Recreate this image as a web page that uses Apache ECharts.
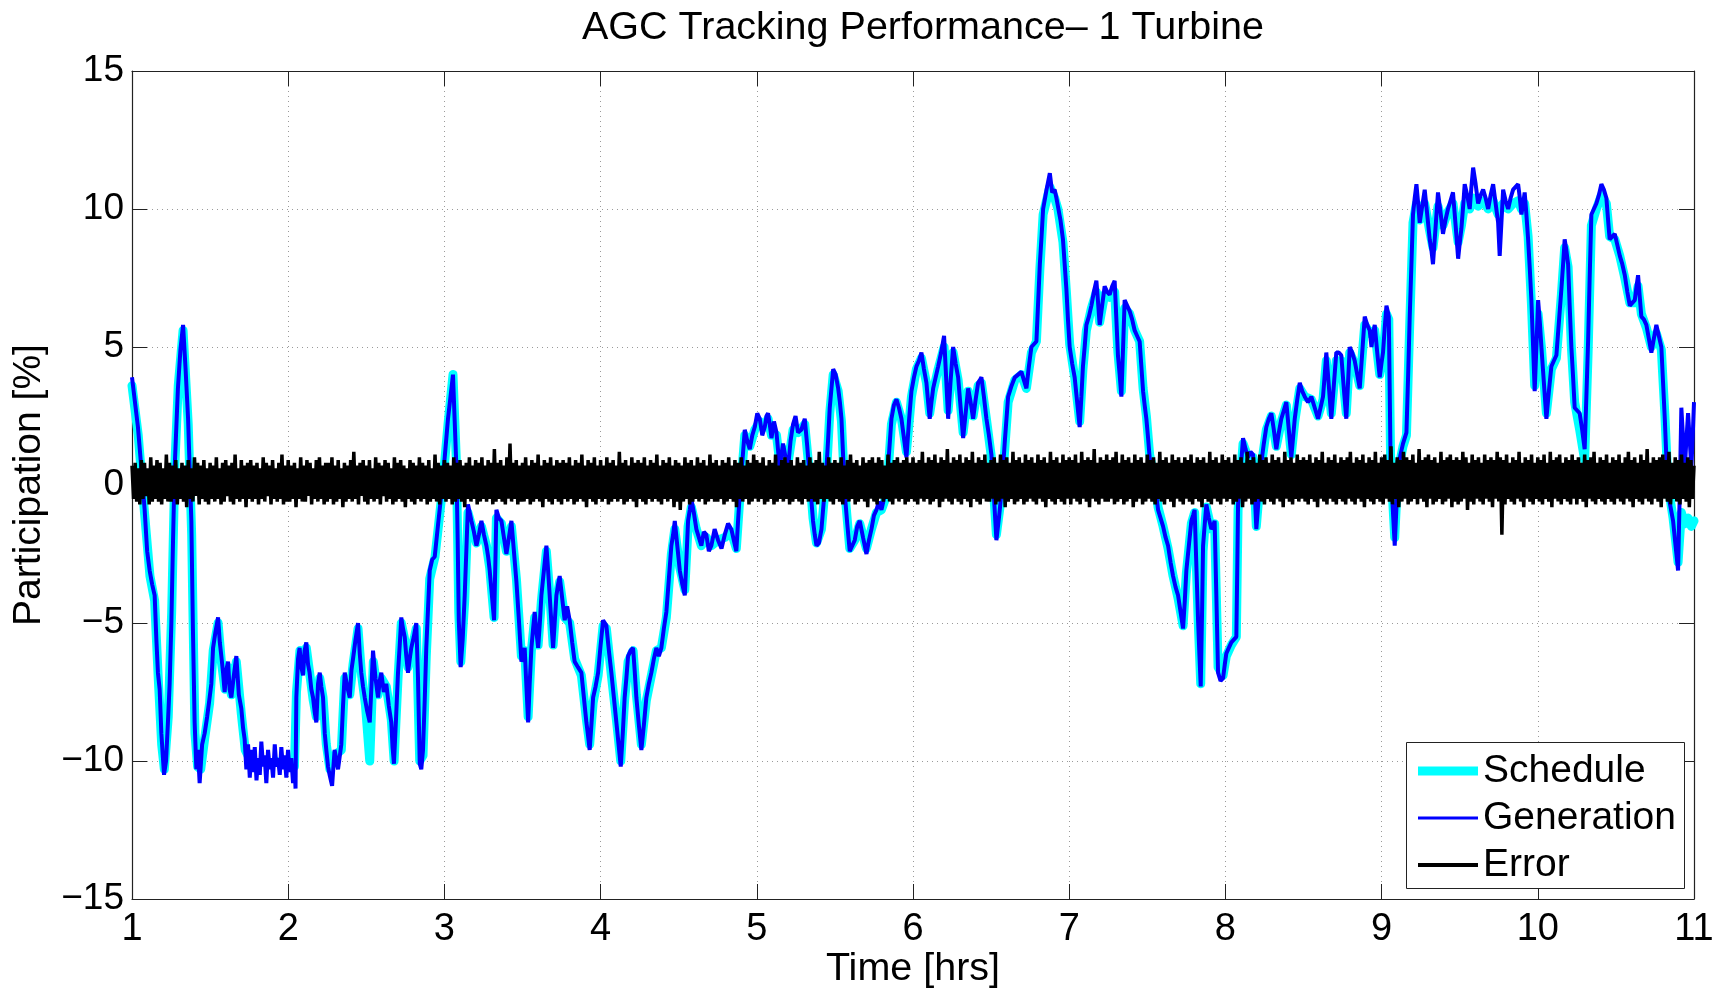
<!DOCTYPE html>
<html>
<head>
<meta charset="utf-8">
<title>AGC Tracking Performance– 1 Turbine</title>
<script src="https://cdn.jsdelivr.net/npm/echarts/dist/echarts.min.js"></script>
<style>
  html, body { margin: 0; padding: 0; background: #fff; }
  #chart { width: 1729px; height: 989px; }
</style>
</head>
<body>
<div id="chart"></div>
<script>
// Axis ticks
const hourTicks = [1, 2, 3, 4, 5, 6, 7, 8, 9, 10, 11];
const pctTicks = [-15, -10, -5, 0, 5, 10, 15];

// AGC schedule [time (hrs), participation (%)]
const schedule = [
[1.000,3.6],[1.040,1.8],[1.080,-1.0],[1.115,-3.3],[1.145,-4.2],[1.168,-7.0],[1.190,-9.4],[1.207,-10.3],[1.232,-8.4],[1.254,-4.6],
[1.275,0.8],[1.296,3.6],[1.327,5.6],[1.360,2.2],[1.382,-1.8],[1.403,-9.0],[1.420,-10.2],[1.440,-10.3],[1.465,-9.2],[1.497,-7.9],
[1.520,-6.0],[1.551,-5.0],[1.572,-6.4],[1.595,-7.4],[1.615,-6.6],[1.636,-7.6],[1.668,-6.4],[1.700,-8.3],[1.725,-9.6],[1.760,-10.0],
[1.800,-10.1],[1.840,-10.0],[1.880,-10.1],[1.920,-10.0],[1.960,-10.1],[2.000,-10.0],[2.040,-10.2],[2.053,-7.5],[2.075,-6.0],[2.095,-6.7],
[2.116,-5.9],[2.137,-6.8],[2.160,-7.8],[2.180,-8.4],[2.202,-7.0],[2.223,-7.7],[2.244,-9.4],[2.267,-10.3],[2.297,-9.8],[2.340,-9.6],
[2.362,-7.0],[2.394,-7.6],[2.415,-6.5],[2.447,-5.2],[2.470,-6.9],[2.495,-8.0],[2.522,-10.0],[2.545,-6.4],[2.575,-7.6],[2.596,-7.0],
[2.628,-7.3],[2.660,-8.5],[2.678,-10.0],[2.703,-7.0],[2.724,-5.0],[2.746,-5.6],[2.767,-6.6],[2.790,-6.0],[2.820,-5.2],[2.842,-10.0],
[2.863,-9.8],[2.884,-6.2],[2.906,-3.4],[2.940,-2.6],[2.981,-0.5],[3.023,2.2],[3.055,4.0],[3.077,0.8],[3.092,-4.6],[3.105,-6.4],
[3.130,-4.2],[3.151,-1.0],[3.205,-2.1],[3.237,-1.5],[3.269,-2.2],[3.290,-3.0],[3.318,-4.8],[3.333,-1.2],[3.365,-1.4],[3.397,-2.4],
[3.429,-1.5],[3.461,-3.4],[3.493,-6.2],[3.514,-6.0],[3.536,-8.4],[3.557,-6.0],[3.578,-4.8],[3.600,-5.8],[3.621,-4.2],[3.653,-2.4],
[3.674,-3.9],[3.696,-5.8],[3.717,-4.2],[3.738,-3.5],[3.770,-4.8],[3.802,-5.0],[3.834,-6.3],[3.877,-6.9],[3.909,-8.5],[3.930,-9.4],
[3.952,-7.9],[3.984,-6.9],[4.016,-5.1],[4.037,-5.2],[4.069,-6.9],[4.101,-8.5],[4.129,-10.0],[4.154,-7.8],[4.176,-6.4],[4.208,-6.0],
[4.229,-7.6],[4.261,-9.4],[4.293,-7.8],[4.325,-6.9],[4.357,-6.0],[4.389,-5.9],[4.421,-4.8],[4.453,-2.5],[4.475,-1.6],[4.507,-3.0],
[4.539,-3.8],[4.560,-1.5],[4.581,-0.8],[4.613,-1.6],[4.645,-2.2],[4.677,-1.9],[4.709,-2.2],[4.752,-2.0],[4.795,-1.9],[4.837,-1.7],
[4.869,-2.3],[4.891,-0.5],[4.923,1.8],[4.955,1.4],[4.987,2.0],[5.019,2.3],[5.051,2.1],[5.072,2.4],[5.094,1.8],[5.126,1.8],
[5.147,0.8],[5.168,1.3],[5.200,0.8],[5.232,2.0],[5.264,1.9],[5.307,2.2],[5.339,0.3],[5.360,-1.2],[5.382,-2.1],[5.414,-1.6],
[5.446,0.4],[5.467,2.6],[5.489,4.0],[5.521,3.4],[5.542,2.3],[5.563,-0.2],[5.595,-2.3],[5.627,-2.0],[5.659,-1.4],[5.702,-2.3],
[5.734,-1.6],[5.766,-1.0],[5.798,-0.9],[5.830,-0.4],[5.862,2.2],[5.894,3.0],[5.926,2.4],[5.958,1.2],[5.990,3.2],[6.022,4.2],
[6.054,4.6],[6.086,3.7],[6.107,2.6],[6.129,3.4],[6.161,4.2],[6.199,5.0],[6.225,2.7],[6.257,4.8],[6.289,3.8],[6.321,1.9],
[6.353,3.4],[6.385,2.5],[6.417,3.6],[6.438,3.7],[6.470,2.4],[6.502,1.0],[6.534,-1.8],[6.566,-0.4],[6.609,3.0],[6.652,3.8],
[6.694,4.0],[6.726,3.5],[6.758,4.8],[6.790,5.2],[6.812,7.8],[6.833,9.8],[6.876,10.8],[6.907,10.4],[6.928,10.0],[6.960,8.8],
[6.982,7.0],[7.003,5.1],[7.035,3.9],[7.067,2.3],[7.088,4.2],[7.110,5.6],[7.142,6.4],[7.174,7.0],[7.195,5.9],[7.227,6.9],
[7.259,6.8],[7.291,7.0],[7.312,4.8],[7.334,3.4],[7.355,6.4],[7.387,6.2],[7.419,5.6],[7.451,5.2],[7.473,3.5],[7.494,2.5],
[7.515,1.1],[7.547,0.2],[7.569,-0.8],[7.601,-1.5],[7.633,-2.3],[7.665,-3.3],[7.697,-4.1],[7.729,-5.1],[7.750,-3.2],[7.782,-1.4],
[7.803,-1.0],[7.825,-4.8],[7.842,-7.2],[7.857,-2.4],[7.878,-0.8],[7.910,-1.6],[7.931,-1.4],[7.953,-6.6],[7.985,-6.9],[8.006,-6.2],
[8.038,-5.8],[8.070,-5.5],[8.081,-0.9],[8.113,1.5],[8.145,1.0],[8.177,1.0],[8.198,-1.5],[8.230,0.7],[8.262,2.0],[8.294,2.5],
[8.326,1.4],[8.358,2.3],[8.390,2.9],[8.422,1.1],[8.444,2.3],[8.476,3.5],[8.508,3.2],[8.550,3.1],[8.593,2.5],[8.625,3.1],
[8.646,4.5],[8.678,2.6],[8.710,4.5],[8.742,4.5],[8.774,2.6],[8.796,4.8],[8.828,4.4],[8.860,3.6],[8.892,5.8],[8.924,5.5],
[8.956,5.6],[8.988,4.0],[9.009,4.6],[9.031,6.2],[9.046,6.0],[9.058,0.8],[9.084,-1.9],[9.105,0.5],[9.137,1.4],[9.159,1.8],
[9.180,5.8],[9.201,9.5],[9.223,10.2],[9.244,9.6],[9.276,10.2],[9.308,9.2],[9.329,8.6],[9.361,10.1],[9.393,9.4],[9.425,9.9],
[9.457,10.2],[9.490,8.8],[9.511,9.4],[9.532,10.2],[9.564,10.0],[9.586,10.4],[9.618,10.1],[9.650,10.3],[9.682,10.0],[9.714,10.3],
[9.746,9.8],[9.778,10.2],[9.810,10.0],[9.842,10.2],[9.874,10.3],[9.895,10.0],[9.916,10.2],[9.938,9.0],[9.959,6.6],[9.980,3.6],
[10.002,6.2],[10.023,5.0],[10.055,2.6],[10.087,4.2],[10.119,4.6],[10.151,6.9],[10.172,8.6],[10.194,7.9],[10.215,5.0],[10.236,3.0],
[10.268,2.0],[10.300,0.9],[10.322,4.8],[10.343,9.4],[10.375,10.0],[10.407,10.5],[10.439,10.2],[10.460,9.0],[10.493,8.9],[10.525,8.3],
[10.557,7.5],[10.589,6.6],[10.621,6.6],[10.642,7.2],[10.663,6.2],[10.695,5.7],[10.727,5.0],[10.759,5.5],[10.791,4.9],[10.813,2.6],
[10.834,0.0],[10.866,-1.2],[10.898,-2.8],[10.919,-1.0],[10.941,-1.4],[10.962,-1.2],[10.983,-1.5],[11.000,-1.3]
];

// Turbine generation [time (hrs), participation (%)]
const generation = [
[1.000,3.9],[1.019,3.0],[1.038,2.1],[1.060,0.6],[1.081,-0.9],[1.097,-2.4],[1.113,-3.1],[1.129,-3.6],[1.145,-4.0],[1.156,-5.6],
[1.166,-6.8],[1.177,-7.4],[1.188,-9.0],[1.205,-10.5],[1.218,-10.0],[1.230,-8.6],[1.241,-7.2],[1.252,-5.0],[1.262,-2.2],[1.273,0.6],
[1.294,3.5],[1.310,4.9],[1.327,5.8],[1.343,4.2],[1.359,2.4],[1.380,-1.3],[1.390,-5.2],[1.401,-8.6],[1.412,-10.3],[1.422,-9.6],
[1.433,-10.8],[1.449,-9.4],[1.465,-9.0],[1.481,-8.4],[1.497,-7.7],[1.508,-7.2],[1.519,-5.9],[1.535,-5.3],[1.551,-4.8],[1.562,-5.7],
[1.572,-6.2],[1.583,-6.8],[1.593,-7.5],[1.604,-6.7],[1.615,-6.4],[1.625,-7.4],[1.636,-7.7],[1.652,-6.9],[1.668,-6.2],[1.684,-7.6],
[1.700,-8.1],[1.711,-8.8],[1.721,-9.2],[1.732,-10.3],[1.743,-9.4],[1.754,-10.6],[1.764,-9.6],[1.775,-10.4],[1.786,-9.5],[1.797,-10.7],
[1.807,-9.9],[1.818,-10.5],[1.828,-9.3],[1.839,-10.2],[1.849,-9.8],[1.860,-10.8],[1.871,-9.6],[1.882,-10.3],[1.892,-9.9],[1.903,-10.6],
[1.914,-9.4],[1.924,-10.2],[1.935,-9.9],[1.946,-10.5],[1.956,-9.5],[1.967,-10.3],[1.977,-9.8],[1.988,-10.6],[1.999,-9.6],[2.009,-10.4],
[2.020,-9.9],[2.031,-10.8],[2.041,-10.1],[2.047,-11.0],[2.052,-7.7],[2.063,-6.3],[2.073,-5.9],[2.084,-6.6],[2.095,-6.9],[2.105,-6.0],
[2.116,-5.7],[2.127,-6.5],[2.137,-6.8],[2.148,-7.4],[2.159,-7.7],[2.169,-8.2],[2.180,-8.6],[2.191,-7.2],[2.202,-6.8],[2.212,-7.3],
[2.223,-7.7],[2.234,-9.0],[2.244,-9.6],[2.255,-10.2],[2.265,-10.5],[2.281,-10.9],[2.297,-9.6],[2.319,-10.3],[2.340,-9.4],[2.351,-8.0],
[2.362,-6.8],[2.378,-7.3],[2.394,-7.7],[2.405,-6.7],[2.415,-6.3],[2.431,-5.6],[2.447,-5.0],[2.458,-6.1],[2.468,-6.8],[2.479,-7.3],
[2.490,-7.7],[2.506,-8.2],[2.522,-8.6],[2.533,-7.3],[2.543,-6.0],[2.559,-7.0],[2.575,-7.7],[2.586,-7.1],[2.596,-6.8],[2.612,-7.5],
[2.628,-7.2],[2.644,-8.0],[2.660,-8.6],[2.668,-9.5],[2.677,-10.1],[2.690,-8.5],[2.703,-6.8],[2.714,-5.8],[2.724,-4.8],[2.735,-5.2],
[2.746,-5.5],[2.756,-6.2],[2.767,-6.8],[2.778,-6.3],[2.788,-5.9],[2.804,-5.5],[2.820,-5.0],[2.831,-7.0],[2.842,-10.1],[2.852,-10.3],
[2.863,-9.6],[2.874,-7.8],[2.884,-5.9],[2.895,-4.5],[2.906,-3.1],[2.922,-2.7],[2.938,-2.6],[2.960,-1.4],[2.981,-0.3],[3.002,1.0],
[3.023,2.4],[3.039,3.2],[3.055,4.0],[3.066,2.3],[3.077,0.6],[3.085,-2.0],[3.092,-4.9],[3.104,-6.6],[3.117,-5.6],[3.130,-4.0],
[3.141,-2.3],[3.151,-0.7],[3.162,-1.0],[3.173,-1.3],[3.189,-1.7],[3.205,-2.2],[3.221,-1.8],[3.237,-1.3],[3.253,-1.8],[3.269,-2.2],
[3.280,-2.6],[3.290,-3.1],[3.304,-4.0],[3.318,-4.9],[3.326,-2.9],[3.333,-0.9],[3.349,-1.2],[3.365,-1.3],[3.381,-1.9],[3.397,-2.5],
[3.413,-1.9],[3.429,-1.3],[3.445,-2.4],[3.461,-3.5],[3.477,-4.9],[3.493,-6.4],[3.504,-6.2],[3.514,-5.9],[3.525,-7.3],[3.536,-8.6],
[3.546,-7.2],[3.557,-5.9],[3.568,-5.2],[3.578,-4.6],[3.589,-5.3],[3.600,-5.9],[3.611,-5.0],[3.621,-4.0],[3.637,-3.1],[3.653,-2.2],
[3.664,-3.1],[3.674,-4.0],[3.685,-5.0],[3.696,-5.9],[3.706,-5.0],[3.717,-4.0],[3.728,-3.6],[3.738,-3.3],[3.754,-4.1],[3.770,-4.9],
[3.786,-4.4],[3.802,-4.9],[3.818,-5.7],[3.834,-6.4],[3.855,-6.6],[3.877,-6.8],[3.893,-7.7],[3.909,-8.6],[3.920,-9.1],[3.930,-9.6],
[3.941,-8.7],[3.952,-7.7],[3.968,-7.3],[3.984,-6.8],[4.000,-5.8],[4.016,-4.9],[4.027,-5.0],[4.037,-5.1],[4.053,-6.0],[4.069,-6.8],
[4.085,-7.7],[4.101,-8.6],[4.115,-9.4],[4.129,-10.2],[4.142,-9.0],[4.154,-7.7],[4.165,-7.0],[4.176,-6.2],[4.192,-6.0],[4.208,-5.9],
[4.219,-6.8],[4.229,-7.7],[4.245,-8.7],[4.261,-9.6],[4.277,-8.7],[4.293,-7.7],[4.309,-7.2],[4.325,-6.8],[4.341,-6.3],[4.357,-5.9],
[4.373,-6.2],[4.389,-5.9],[4.405,-5.2],[4.421,-4.6],[4.437,-3.4],[4.453,-2.2],[4.464,-1.8],[4.475,-1.3],[4.491,-2.2],[4.507,-3.1],
[4.523,-3.6],[4.539,-4.0],[4.550,-2.6],[4.560,-1.3],[4.571,-0.9],[4.581,-0.5],[4.597,-1.0],[4.613,-1.6],[4.629,-1.9],[4.645,-2.2],
[4.661,-1.7],[4.677,-1.8],[4.693,-2.4],[4.709,-2.2],[4.730,-1.6],[4.752,-2.0],[4.774,-2.3],[4.795,-1.8],[4.816,-1.4],[4.837,-1.6],
[4.853,-2.0],[4.869,-2.4],[4.880,-1.3],[4.891,-0.3],[4.907,0.8],[4.923,2.0],[4.939,1.6],[4.955,1.3],[4.971,1.8],[4.987,2.1],
[5.003,2.6],[5.019,2.4],[5.035,1.8],[5.051,2.1],[5.062,2.5],[5.072,2.6],[5.083,2.2],[5.094,1.7],[5.110,2.3],[5.126,1.9],
[5.137,1.2],[5.147,0.6],[5.158,1.1],[5.168,1.5],[5.184,1.0],[5.200,0.6],[5.216,1.6],[5.232,2.2],[5.248,2.5],[5.264,1.9],
[5.285,2.0],[5.307,2.4],[5.323,1.4],[5.339,0.2],[5.350,-0.6],[5.360,-1.3],[5.371,-1.8],[5.382,-2.2],[5.398,-2.1],[5.414,-1.6],
[5.430,-0.5],[5.446,0.6],[5.457,1.7],[5.467,2.8],[5.478,3.5],[5.489,4.2],[5.505,4.0],[5.521,3.5],[5.532,3.0],[5.542,2.4],
[5.553,1.0],[5.563,-0.3],[5.579,-1.4],[5.595,-2.4],[5.611,-2.2],[5.627,-2.0],[5.643,-1.5],[5.659,-1.3],[5.680,-1.9],[5.702,-2.5],
[5.718,-2.0],[5.734,-1.6],[5.750,-1.1],[5.766,-0.9],[5.782,-0.6],[5.798,-0.9],[5.814,-0.5],[5.830,-0.3],[5.846,1.1],[5.862,2.4],
[5.878,2.9],[5.894,3.1],[5.910,2.8],[5.926,2.4],[5.942,1.7],[5.958,1.0],[5.974,2.3],[5.990,3.4],[6.006,3.9],[6.022,4.3],
[6.038,4.5],[6.054,4.8],[6.070,4.2],[6.086,3.7],[6.097,3.0],[6.107,2.4],[6.118,3.0],[6.129,3.5],[6.145,3.9],[6.161,4.3],
[6.180,4.8],[6.199,5.4],[6.212,3.9],[6.225,2.4],[6.241,3.8],[6.257,5.0],[6.273,4.4],[6.289,3.9],[6.305,2.8],[6.321,1.7],
[6.337,2.6],[6.353,3.5],[6.369,3.0],[6.385,2.4],[6.401,3.1],[6.417,3.7],[6.428,3.8],[6.438,3.9],[6.454,3.2],[6.470,2.4],
[6.486,1.8],[6.502,1.1],[6.518,-0.4],[6.534,-2.0],[6.550,-1.2],[6.566,-0.3],[6.588,1.6],[6.609,3.2],[6.631,3.6],[6.652,3.9],
[6.673,4.0],[6.694,4.1],[6.710,3.8],[6.726,3.5],[6.742,4.3],[6.758,5.0],[6.774,5.1],[6.790,5.2],[6.801,6.6],[6.812,8.0],
[6.823,9.0],[6.833,10.0],[6.855,10.7],[6.876,11.3],[6.891,10.6],[6.907,10.7],[6.918,10.4],[6.928,10.4],[6.944,9.6],[6.960,8.9],
[6.971,8.0],[6.982,7.1],[6.992,6.0],[7.003,5.0],[7.019,4.4],[7.035,3.9],[7.051,3.0],[7.067,2.1],[7.078,3.2],[7.088,4.3],
[7.099,5.0],[7.110,5.8],[7.126,6.1],[7.142,6.5],[7.158,7.0],[7.174,7.4],[7.185,6.6],[7.195,5.8],[7.211,6.5],[7.227,7.2],
[7.243,7.0],[7.259,6.9],[7.275,7.2],[7.291,7.4],[7.302,6.0],[7.312,4.7],[7.323,4.0],[7.334,3.2],[7.345,5.0],[7.355,6.7],
[7.371,6.5],[7.387,6.3],[7.403,6.0],[7.419,5.6],[7.435,5.4],[7.451,5.2],[7.462,4.3],[7.473,3.4],[7.483,2.9],[7.494,2.4],
[7.505,1.7],[7.515,1.0],[7.531,0.6],[7.547,0.2],[7.558,-0.4],[7.569,-0.9],[7.585,-1.2],[7.601,-1.5],[7.617,-1.9],[7.633,-2.2],
[7.649,-2.8],[7.665,-3.3],[7.681,-3.7],[7.697,-4.0],[7.713,-4.6],[7.729,-5.2],[7.740,-4.2],[7.750,-3.1],[7.766,-2.2],[7.782,-1.3],
[7.793,-1.1],[7.803,-0.9],[7.814,-2.9],[7.825,-4.9],[7.834,-6.2],[7.842,-7.3],[7.850,-4.8],[7.857,-2.2],[7.868,-1.4],[7.878,-0.7],
[7.894,-1.2],[7.910,-1.6],[7.921,-1.5],[7.931,-1.3],[7.942,-4.0],[7.953,-6.8],[7.969,-7.1],[7.985,-7.0],[7.996,-6.5],[8.006,-6.1],
[8.022,-5.9],[8.038,-5.7],[8.054,-5.6],[8.070,-5.5],[8.076,-3.0],[8.081,-0.7],[8.097,0.5],[8.113,1.7],[8.129,1.3],[8.145,1.0],
[8.161,1.2],[8.177,1.1],[8.188,-0.3],[8.198,-1.6],[8.214,-0.4],[8.230,0.8],[8.246,1.5],[8.262,2.1],[8.278,2.4],[8.294,2.6],
[8.310,2.0],[8.326,1.3],[8.342,1.9],[8.358,2.4],[8.374,2.7],[8.390,3.0],[8.406,2.0],[8.422,1.0],[8.433,1.7],[8.444,2.4],
[8.460,3.1],[8.476,3.7],[8.492,3.4],[8.508,3.2],[8.529,3.0],[8.550,3.2],[8.572,2.8],[8.593,2.4],[8.609,2.8],[8.625,3.2],
[8.636,4.0],[8.646,4.8],[8.662,3.6],[8.678,2.4],[8.694,3.6],[8.710,4.8],[8.726,4.8],[8.742,4.7],[8.758,3.5],[8.774,2.4],
[8.785,3.7],[8.796,5.0],[8.812,4.8],[8.828,4.5],[8.844,4.0],[8.860,3.5],[8.876,4.8],[8.892,6.1],[8.908,5.8],[8.924,5.6],
[8.935,5.0],[8.946,5.5],[8.956,5.8],[8.972,4.8],[8.988,3.9],[8.999,4.4],[9.009,4.8],[9.020,5.7],[9.031,6.5],[9.039,6.3],
[9.046,6.1],[9.052,3.4],[9.058,0.6],[9.071,-0.8],[9.084,-2.2],[9.095,-0.8],[9.105,0.6],[9.121,1.1],[9.137,1.5],[9.148,1.7],
[9.159,1.9],[9.170,4.0],[9.180,6.1],[9.191,8.0],[9.201,9.8],[9.212,10.4],[9.223,10.9],[9.234,10.2],[9.244,9.5],[9.260,10.1],
[9.276,10.7],[9.292,9.8],[9.308,8.9],[9.319,8.5],[9.329,8.0],[9.345,9.3],[9.361,10.6],[9.377,9.9],[9.393,9.1],[9.409,9.6],
[9.425,10.0],[9.441,10.3],[9.457,10.6],[9.474,9.4],[9.490,8.2],[9.501,8.8],[9.511,9.3],[9.522,10.1],[9.532,10.9],[9.548,10.5],
[9.564,10.0],[9.575,10.8],[9.586,11.5],[9.602,10.9],[9.618,10.2],[9.634,10.5],[9.650,10.7],[9.666,10.4],[9.682,10.0],[9.698,10.5],
[9.714,10.9],[9.730,10.2],[9.746,9.5],[9.756,8.3],[9.767,9.5],[9.778,10.7],[9.794,10.3],[9.810,10.0],[9.826,10.4],[9.842,10.7],
[9.858,10.8],[9.874,10.9],[9.885,10.4],[9.895,9.8],[9.906,10.2],[9.916,10.6],[9.927,9.8],[9.938,8.9],[9.949,7.8],[9.959,6.7],
[9.970,5.0],[9.980,3.4],[9.991,5.0],[10.002,6.7],[10.013,5.9],[10.023,5.0],[10.039,3.7],[10.055,2.4],[10.071,3.4],[10.087,4.3],
[10.103,4.5],[10.119,4.7],[10.135,5.9],[10.151,7.1],[10.162,8.0],[10.172,8.9],[10.183,8.5],[10.194,8.0],[10.204,6.5],[10.215,5.0],
[10.226,3.9],[10.236,2.8],[10.252,2.7],[10.268,2.6],[10.284,2.0],[10.300,1.3],[10.311,3.2],[10.322,5.2],[10.332,7.5],[10.343,9.8],
[10.359,10.0],[10.375,10.2],[10.391,10.5],[10.407,10.9],[10.423,10.7],[10.439,10.4],[10.450,9.6],[10.460,8.9],[10.477,9.0],[10.493,9.1],
[10.509,8.7],[10.525,8.3],[10.541,8.0],[10.557,7.6],[10.573,7.0],[10.589,6.5],[10.605,6.6],[10.621,6.7],[10.632,7.2],[10.642,7.6],
[10.653,6.8],[10.663,6.1],[10.679,6.0],[10.695,5.8],[10.711,5.3],[10.727,4.8],[10.743,5.3],[10.759,5.8],[10.775,5.4],[10.791,5.0],
[10.802,3.7],[10.813,2.4],[10.823,1.0],[10.834,-0.3],[10.850,-0.8],[10.866,-1.3],[10.882,-2.2],[10.898,-3.1],[10.909,-0.2],[10.919,2.8],
[10.930,1.7],[10.941,0.6],[10.951,1.6],[10.962,2.6],[10.973,1.6],[10.983,0.6],[10.992,1.8],[11.000,3.0]
];

// Tracking error (%), sampled every errorStepHrs from errorStartHrs (one row = 0.25 h)
const errorStartHrs = 1;
const errorStepHrs = 0.01;
const errorPct = [
0.7,-0.5,0.8,-0.6,0.6,-0.7,0.9,-0.5,0.8,-0.4,0.6,-0.7,1.0,-0.6,0.7,-0.5,0.9,-0.6,0.8,-0.7,0.6,-0.5,1.1,-0.6,0.8,
-0.6,0.7,-0.5,0.9,-0.7,0.6,-0.5,0.8,-0.6,0.7,-0.8,0.9,-0.5,0.6,-0.6,1.0,-0.4,0.8,-0.7,0.7,-0.5,0.9,-0.6,0.6,-0.7,
0.8,-0.5,0.7,-0.6,1.0,-0.5,0.6,-0.7,0.8,-0.6,0.9,-0.4,0.7,-0.6,0.8,-0.7,1.1,-0.5,0.6,-0.6,0.9,-0.5,0.7,-0.8,0.8,
-0.5,0.9,-0.6,0.7,-0.5,0.8,-0.7,0.6,-0.5,1.0,-0.6,0.8,-0.4,0.7,-0.7,0.9,-0.5,0.6,-0.6,0.8,-0.5,1.1,-0.7,0.7,-0.6,
0.9,-0.6,0.7,-0.5,0.8,-0.8,0.6,-0.5,1.0,-0.6,0.7,-0.6,0.9,-0.4,0.8,-0.7,0.6,-0.5,0.9,-0.6,1.0,-0.5,0.7,-0.7,0.8,
-0.6,0.8,-0.5,1.0,-0.7,0.7,-0.6,0.9,-0.5,0.6,-0.8,0.8,-0.6,0.7,-0.5,0.9,-0.6,1.2,-0.5,0.7,-0.7,0.8,-0.4,0.9,-0.6,
0.7,-0.7,0.9,-0.5,0.6,-0.6,1.0,-0.5,0.8,-0.7,0.7,-0.4,0.9,-0.6,0.8,-0.5,0.6,-0.7,1.0,-0.6,0.8,-0.5,0.9,-0.6,0.7,
-0.8,0.6,-0.5,0.9,-0.6,0.8,-0.7,0.7,-0.5,1.0,-0.6,0.8,-0.5,0.7,-0.7,0.9,-0.6,0.6,-0.5,1.1,-0.6,0.8,-0.7,0.7,-0.5,
0.9,-0.6,0.8,-0.5,0.7,-0.7,1.0,-0.6,0.8,-0.5,0.9,-0.6,0.7,-0.8,0.8,-0.5,1.0,-0.6,0.7,-0.5,0.9,-0.7,0.8,-0.6,1.0,
-0.5,0.7,-0.6,0.9,-0.5,0.8,-0.7,1.3,-0.6,0.8,-0.5,0.9,-0.6,0.7,-0.7,1.0,-0.5,1.5,-0.6,0.8,-0.5,0.9,-0.7,0.7,-0.6,
0.8,-0.6,1.0,-0.5,0.7,-0.7,0.9,-0.6,0.8,-0.5,1.1,-0.6,0.7,-0.8,0.9,-0.5,0.8,-0.6,1.0,-0.7,0.7,-0.5,0.9,-0.6,0.8,
-0.7,0.9,-0.5,0.8,-0.6,1.0,-0.5,0.7,-0.7,0.9,-0.6,0.8,-0.5,1.1,-0.6,0.7,-0.8,0.9,-0.5,0.8,-0.6,1.0,-0.7,0.7,-0.5,
0.9,-0.6,0.7,-0.5,1.0,-0.7,0.8,-0.6,0.9,-0.5,0.7,-0.6,1.2,-0.5,0.8,-0.7,0.9,-0.6,0.7,-0.5,1.0,-0.6,0.8,-0.8,0.9,
-0.5,0.8,-0.6,1.0,-0.7,0.7,-0.5,0.9,-0.6,0.8,-0.5,1.1,-0.6,0.7,-0.7,0.9,-0.5,0.8,-0.6,1.0,-0.5,0.7,-0.8,0.9,-0.6,
0.8,-0.9,0.7,-0.6,1.0,-0.5,0.8,-0.7,0.9,-0.6,0.7,-0.5,1.0,-0.6,0.8,-0.5,0.9,-0.7,0.7,-0.6,1.1,-0.5,0.8,-0.6,0.9,
-0.6,0.7,-0.5,0.9,-0.7,0.8,-0.6,1.0,-0.5,0.7,-0.6,0.9,-0.8,0.8,-0.5,1.0,-0.6,0.7,-0.5,0.9,-0.7,0.8,-0.6,1.1,-0.5,
0.9,-0.6,0.8,-0.5,1.0,-0.7,0.7,-0.6,0.9,-0.5,0.8,-0.7,1.1,-0.6,0.7,-0.5,0.9,-0.6,1.0,-0.5,0.8,-0.7,0.9,-0.6,0.7,
-0.5,1.0,-0.6,0.8,-0.7,0.9,-0.5,0.7,-0.6,1.0,-0.5,0.8,-0.6,0.9,-0.7,1.2,-0.5,0.8,-0.6,0.7,-0.5,1.0,-0.6,0.8,-0.7,
0.9,-0.5,0.8,-0.6,1.0,-0.7,0.7,-0.5,0.9,-0.6,1.1,-0.5,0.8,-0.7,0.9,-0.6,0.7,-0.5,1.0,-0.6,0.8,-0.8,0.9,-0.5,1.0,
-0.6,0.8,-0.7,1.0,-0.5,0.9,-0.6,0.7,-0.5,1.1,-0.6,0.8,-0.7,0.9,-0.5,1.0,-0.6,0.8,-0.5,0.9,-0.7,1.0,-0.6,0.8,-0.5,
1.0,-0.6,0.8,-0.7,0.9,-0.5,1.2,-0.6,0.8,-0.5,1.0,-0.7,0.9,-0.6,1.1,-0.5,0.8,-0.8,1.0,-0.6,0.9,-0.5,1.3,-0.6,0.8,
-0.7,1.0,-0.5,0.9,-0.6,1.1,-0.7,0.8,-0.5,1.0,-0.6,0.9,-0.8,1.2,-0.5,0.8,-0.6,1.0,-0.7,0.9,-0.5,1.1,-0.6,0.8,-0.6,
0.9,-0.5,1.0,-0.7,0.8,-0.6,1.1,-0.5,0.9,-0.8,1.0,-0.6,0.8,-0.5,1.2,-0.7,0.9,-0.6,1.0,-0.5,0.8,-0.7,1.1,-0.6,0.9,
-0.5,1.0,-0.6,0.8,-0.7,1.1,-0.5,0.9,-0.6,1.0,-0.8,0.8,-0.5,1.2,-0.6,0.9,-0.7,1.0,-0.5,0.8,-0.6,1.1,-0.7,0.9,-0.5,
1.0,-0.7,0.9,-0.5,1.1,-0.6,0.8,-0.7,1.2,-0.5,0.9,-0.6,1.0,-0.8,0.9,-0.5,1.3,-0.6,0.8,-0.7,1.0,-0.5,0.9,-0.6,1.1,
-0.6,0.9,-0.5,1.0,-0.7,1.2,-0.6,0.8,-0.5,1.1,-0.7,0.9,-0.6,1.0,-0.5,0.8,-0.8,1.1,-0.6,0.9,-0.5,1.0,-0.7,0.8,-0.6,
1.1,-0.5,0.9,-0.6,1.0,-0.7,0.8,-0.5,1.2,-0.6,0.9,-0.7,1.0,-0.5,0.8,-0.6,1.1,-0.8,0.9,-0.5,1.0,-0.6,0.8,-0.7,1.0,
-0.5,0.9,-0.6,1.1,-0.7,0.8,-0.5,1.0,-0.6,0.9,-0.8,1.0,-0.5,0.8,-0.6,1.2,-0.7,0.9,-0.5,1.0,-0.6,0.8,-0.7,1.1,-0.5,
0.9,-0.6,1.0,-0.5,0.8,-0.7,1.1,-0.6,0.9,-0.5,1.0,-0.8,0.8,-0.6,1.2,-0.5,0.9,-0.7,1.0,-0.6,0.8,-0.5,1.1,-0.6,0.9,
-0.7,1.0,-0.5,0.8,-0.6,1.1,-0.7,0.9,-0.5,1.0,-0.6,0.8,-0.8,1.2,-0.5,0.9,-0.6,1.0,-0.7,0.8,-0.5,1.1,-0.6,0.9,-0.5,
1.0,-0.6,0.9,-0.7,1.1,-0.5,0.8,-0.6,1.0,-0.8,0.9,-0.5,1.2,-0.6,0.8,-0.7,1.0,-0.5,0.9,-0.6,1.1,-0.7,0.8,-0.5,1.0,
-0.6,0.9,-0.7,1.0,-0.5,1.2,-0.6,0.8,-0.7,1.0,-0.5,0.9,-0.6,1.1,-0.8,0.8,-0.5,1.0,-0.6,0.9,-0.7,1.2,-0.5,0.8,-0.6,
1.0,-0.7,1.1,-0.5,0.9,-0.6,1.4,-0.7,0.8,-0.5,1.0,-0.8,0.9,-0.6,1.2,-0.5,1.0,-0.7,0.9,-0.6,1.1,-0.5,0.8,-0.7,1.3,
-0.5,0.9,-0.6,1.0,-0.8,1.1,-0.5,0.9,-0.7,1.0,-0.6,0.8,-0.5,1.2,-0.7,0.9,-0.6,1.0,-0.5,1.1,-0.8,0.9,-0.6,1.0,-0.7,
0.9,-0.6,1.2,-0.5,1.0,-0.9,0.8,-0.6,1.1,-0.7,0.9,-0.5,1.0,-0.6,0.8,-0.7,1.1,-0.5,0.9,-0.6,1.0,-0.8,0.9,-0.5,1.2,
-0.6,1.0,-1.8,0.9,-0.7,1.1,-0.5,0.8,-0.6,1.0,-0.7,0.9,-0.5,1.2,-0.6,0.8,-0.8,1.0,-0.5,0.9,-0.6,1.1,-0.7,0.8,-0.5,
1.0,-0.6,0.9,-0.7,1.1,-0.5,0.8,-0.6,1.2,-0.8,0.9,-0.5,1.0,-0.6,1.1,-0.7,0.8,-0.5,1.0,-0.6,0.9,-0.7,1.1,-0.5,0.9,
-0.7,1.0,-0.5,0.8,-0.6,1.1,-0.8,0.9,-0.5,1.0,-0.6,1.2,-0.7,0.8,-0.5,1.0,-0.6,0.9,-0.7,1.1,-0.5,0.8,-0.6,1.0,-0.7,
0.9,-0.5,1.1,-0.6,0.8,-0.7,1.0,-0.5,1.2,-0.6,0.9,-0.8,1.0,-0.5,0.8,-0.6,1.1,-0.7,0.9,-0.5,1.3,-0.6,0.8,-0.7,1.0,
-0.5,0.9,-0.6,1.0,-0.8,1.1,-0.5,0.9,-0.6,1.2,-0.7,0.8,-0.5,1.0,-0.6,0.9,-0.7,1.1,-0.5,0.8,-0.6,1.0,-0.8,0.9,-0.5,
0.7
];

const seriesNames = ['Schedule', 'Generation', 'Error'];
const seriesColors = ['#00ffff', '#0000ff', '#000000'];

const FONT = '"Liberation Sans", Arial, Helvetica, sans-serif';

const errorData = errorPct.map((v, i) => [+(errorStartHrs + i * errorStepHrs).toFixed(3), v]);

const chart = echarts.init(document.getElementById('chart'), null, { renderer: 'canvas' });

const frameLine = { show: true, onZero: false, lineStyle: { color: '#222', width: 1.2 } };
const innerTick = { show: true, inside: true, length: 15, lineStyle: { color: '#222', width: 1 } };
const dottedGrid = { show: true, lineStyle: { color: '#9a9a9a', width: 1, type: [1, 4] } };

const legendBase = {
  left: 1418,
  orient: 'horizontal',
  itemWidth: 60,
  icon: 'rect',
  padding: 0,
  selectedMode: false,
  z: 5,
  textStyle: { fontSize: 39, color: '#000', fontFamily: FONT, lineHeight: 40 }
};

chart.setOption({
  animation: false,
  backgroundColor: '#ffffff',
  textStyle: { fontFamily: FONT },
  title: {
    text: 'AGC Tracking Performance\u2013 1 Turbine',
    left: 923,
    top: 8,
    textAlign: 'center',
    padding: 0,
    textStyle: { fontSize: 39.5, fontWeight: 'normal', color: '#000', fontFamily: FONT }
  },
  // fixed plot box: keep the axis names from shrinking it
  grid: { left: 132, right: 35, top: 71, bottom: 90, containLabel: false, outerBoundsMode: 'none' },
  xAxis: [
    {
      type: 'value', position: 'bottom',
      min: hourTicks[0], max: hourTicks[hourTicks.length - 1], interval: 1,
      name: 'Time [hrs]', nameLocation: 'middle', nameGap: 50, nameMoveOverlap: false,
      nameTextStyle: { fontSize: 39.5, color: '#000', fontFamily: FONT },
      axisLine: frameLine, axisTick: innerTick,
      axisLabel: { fontSize: 38, color: '#000', margin: 12, fontFamily: FONT },
      splitLine: dottedGrid
    },
    {
      type: 'value', position: 'top',
      min: hourTicks[0], max: hourTicks[hourTicks.length - 1], interval: 1,
      axisLine: frameLine, axisTick: innerTick,
      axisLabel: { show: false }, splitLine: { show: false }
    }
  ],
  yAxis: [
    {
      type: 'value', position: 'left',
      min: pctTicks[0], max: pctTicks[pctTicks.length - 1], interval: 5,
      name: 'Participation [%]', nameLocation: 'middle', nameGap: 83, nameMoveOverlap: false,
      nameTextStyle: { fontSize: 39, color: '#000', fontFamily: FONT },
      axisLine: frameLine, axisTick: innerTick,
      axisLabel: {
        fontSize: 37, color: '#000', margin: 8, fontFamily: FONT,
        formatter: v => (v < 0 ? '\u2212' + Math.abs(v) : String(v))
      },
      splitLine: dottedGrid
    },
    {
      type: 'value', position: 'right',
      min: pctTicks[0], max: pctTicks[pctTicks.length - 1], interval: 5,
      axisLine: frameLine, axisTick: innerTick,
      axisLabel: { show: false }, splitLine: { show: false }
    }
  ],
  legend: [
    Object.assign({}, legendBase, { data: [seriesNames[0]], top: 751, itemHeight: 9 }),
    Object.assign({}, legendBase, { data: [seriesNames[1]], top: 798, itemHeight: 3 }),
    Object.assign({}, legendBase, { data: [seriesNames[2]], top: 845, itemHeight: 4 })
  ],
  graphic: [
    {
      type: 'rect', z: 3,
      shape: { x: 1406.5, y: 742.5, width: 278, height: 146 },
      style: { fill: '#ffffff', stroke: '#222', lineWidth: 1 }
    }
  ],
  series: [
    {
      name: seriesNames[0], type: 'line', xAxisIndex: 0, yAxisIndex: 0,
      data: schedule, showSymbol: false, symbol: 'none',
      color: seriesColors[0], itemStyle: { color: seriesColors[0] },
      lineStyle: { color: seriesColors[0], width: 9, join: 'round', cap: 'round' }
    },
    {
      name: seriesNames[1], type: 'line', xAxisIndex: 0, yAxisIndex: 0,
      data: generation, showSymbol: false, symbol: 'none',
      color: seriesColors[1], itemStyle: { color: seriesColors[1] },
      lineStyle: { color: seriesColors[1], width: 4, join: 'bevel' }
    },
    {
      name: seriesNames[2], type: 'line', xAxisIndex: 0, yAxisIndex: 0,
      data: errorData, showSymbol: false, symbol: 'none',
      color: seriesColors[2], itemStyle: { color: seriesColors[2] },
      lineStyle: { color: seriesColors[2], width: 3.5, join: 'bevel' }
    }
  ]
});
</script>
</body>
</html>
